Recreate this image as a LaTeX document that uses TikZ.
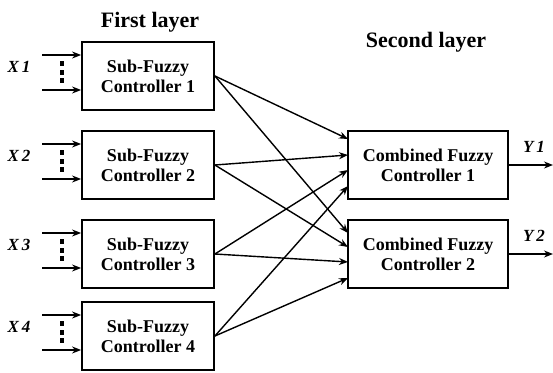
\documentclass[tikz,border=0pt]{standalone}
\usepackage{fontspec}
\setmainfont{Liberation Serif}
\usetikzlibrary{arrows.meta}
\begin{document}
\begin{tikzpicture}[x=1pt,y=-1pt,
  box/.style={draw,line width=1.8pt,inner sep=0pt,align=center,
    font=\fontsize{18}{20}\selectfont\bfseries},
  subbox/.style={box,minimum width=132pt,minimum height=68pt},
  combox/.style={box,minimum width=160pt,minimum height=68pt},
  conn/.style={line width=1.4pt,-{Stealth[length=9pt,width=7pt]}},
  varlbl/.style={font=\fontsize{17}{18}\selectfont\bfseries\itshape},
  title/.style={font=\fontsize{22}{24}\selectfont\bfseries},
  dotmark/.style={fill,inner sep=0pt,minimum width=3.5pt,minimum height=5pt}]
\useasboundingbox (0,0) rectangle (553,372);
% titles
\node[title] (t1) at (150,22) {First layer};
\node[title] (t2) at (426,42) {Second layer};
% sub-fuzzy controllers
\foreach \i/\y in {1/76,2/165,3/254,4/336}{
  \node[subbox] (s\i) at (148,\y) {Sub-Fuzzy\\Controller \i};
  \node[varlbl] (x\i) at (19,\y-9) {X\,\i};
  \coordinate (ia\i) at (42,\y-21);
  \coordinate (ib\i) at (42,\y+14);
  \draw[conn] (ia\i) -- (ia\i -| s\i.west);
  \draw[conn] (ib\i) -- (ib\i -| s\i.west);
  \node[dotmark] (da\i) at (62,\y-13) {};
  \node[dotmark] (db\i) at (62,\y-4) {};
  \node[dotmark] (dc\i) at (62,\y+4) {};
}
% combined controllers
\node[combox] (c1) at (428,165) {Combined Fuzzy\\Controller 1};
\node[combox] (c2) at (428,254) {Combined Fuzzy\\Controller 2};
% connections
\foreach \i/\ya/\yb in {1/139/233,2/155/247,3/170/262,4/186/278}{
  \coordinate (pa\i) at (348,\ya);
  \coordinate (pb\i) at (348,\yb);
  \draw[conn] (s\i.east) -- (pa\i);
  \draw[conn] (s\i.east) -- (pb\i);
}
% outputs
\coordinate (o1) at (553,165);
\coordinate (o2) at (553,254);
\draw[conn] (c1.east) -- (o1);
\draw[conn] (c2.east) -- (o2);
\node[varlbl] (y1) at (534,147) {Y\,1};
\node[varlbl] (y2) at (534,236) {Y\,2};
\end{tikzpicture}
\end{document}
